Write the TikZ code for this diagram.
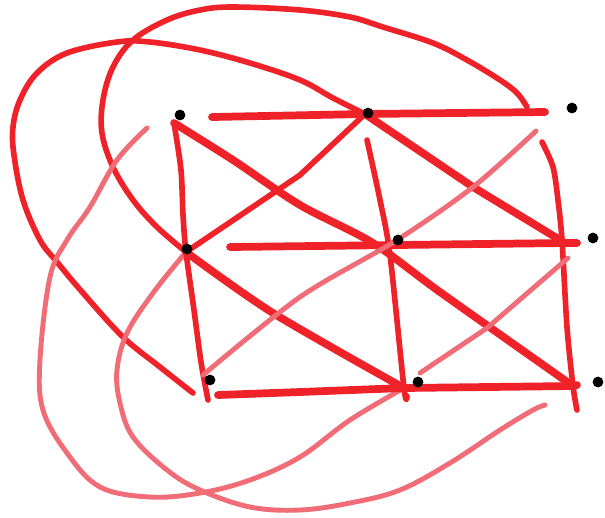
\documentclass[tikz,border=0pt]{standalone}
\usepackage{tikz}
\usetikzlibrary{positioning}
\definecolor{penred}{RGB}{238,34,40}
\definecolor{penpink}{RGB}{240,108,118}

\begin{document}
\begin{tikzpicture}[x=0.01cm, y=-0.01cm,
  dot/.style={circle, fill=black, draw=black, line width=0.6pt, inner sep=0pt, minimum size=0.85mm},
  heavy/.style={draw=penred, line width=2.2pt, line cap=round, line join=round},
  medium/.style={draw=penred, line width=1.6pt, line cap=round, line join=round},
  light/.style={draw=penpink, line width=1.4pt, line cap=round, line join=round},
  ]
  \useasboundingbox (0,0) rectangle (605,517);

  % stroke ends
  \coordinate (tlS) at (174,123);
  \coordinate (tmS) at (365,114);
  \coordinate (mlS) at (186,252);
  \coordinate (blS) at (203,375);
  \coordinate (bmS) at (404,388);
  \coordinate (brS) at (573,386);
  \coordinate (mrS) at (565,243);
  \coordinate (trS) at (536,131);

  % wrap-around curves
  \draw[medium] plot[smooth, tension=0.6] coordinates {(tmS) (333,98) (300,80) (250,63)
        (200,50) (150,42) (117,42) (67,53) (37,73) (20,100) (13,127) (14,155) (23,200)
        (40,240) (57,262) (83,293) (123,337) (160,367) (193,393)};
  \draw[medium] plot[smooth, tension=0.6] coordinates {(mlS) (157,227) (133,200) (113,167)
        (102,133) (103,100) (113,67) (133,40) (167,20) (200,10) (233,7) (300,10) (350,17)
        (383,27) (433,43) (467,60) (500,80) (517,93) (527,107)};
  \draw[light] plot[smooth, tension=0.6] coordinates {(147,128) (117,160) (90,207) (67,240)
        (50,277) (40,360) (43,410) (67,453) (100,487) (150,497) (200,493) (250,480)
        (300,457) (350,420) (bmS)};
  \draw[light] plot[smooth, tension=0.6] coordinates {(mlS) (153,293) (127,333) (117,370)
        (120,403) (133,437) (167,470) (200,490) (250,507) (300,510) (350,503) (400,490)
        (450,463) (500,430) (533,410) (545,405)};

  % rows
  \draw[heavy] (212,117) -- (tmS) -- (545,112);
  \draw[heavy] (230,247) -- (mrS) -- (577,243);
  \draw[heavy] (218,395) -- (300,392) -- (bmS) -- (brS) -- (577,385);

  % columns
  \draw[medium] plot[smooth] coordinates {(tlS) (181,170) (183,215) (mlS) (194,310)
        (201,362) (208,400)};
  \draw[medium] plot[smooth] coordinates {(367,140) (380,200) (390,255) (bmS) (407,396)};
  \draw[medium] plot[smooth] coordinates {(542,142) (553,167) (558,200) (562,240)
        (567,327) (573,386) (577,410)};

  % diagonals
  \draw[heavy] plot[smooth, tension=0.5] coordinates {(tlS) (233,160) (300,205) (373,243)
        (440,292) (brS)};
  \draw[heavy] (tmS) -- (473,187) -- (mrS);
  \draw[heavy] plot[smooth, tension=0.5] coordinates {(mlS) (273,313) (bmS)};
  \draw[medium] (tmS) -- (300,175) -- (mlS);
  \draw[light] plot[smooth, tension=0.5] coordinates {(blS) (300,297) (397,240) (473,187)
        (trS)};
  \draw[light] (420,373) -- (487,328) -- (568,258);

  % vertices
  \node[dot] (tl) at (180,115) {};
  \node[dot] (tm) at (368,113) {};
  \node[dot] (tr) at (572,108) {};
  \node[dot] (ml) at (187,249) {};
  \node[dot] (mm) at (398,240) {};
  \node[dot] (mr) at (593,238) {};
  \node[dot] (bl) at (210,380) {};
  \node[dot] (bm) at (418,382) {};
  \node[dot] (br) at (598,382) {};
\end{tikzpicture}
\end{document}
